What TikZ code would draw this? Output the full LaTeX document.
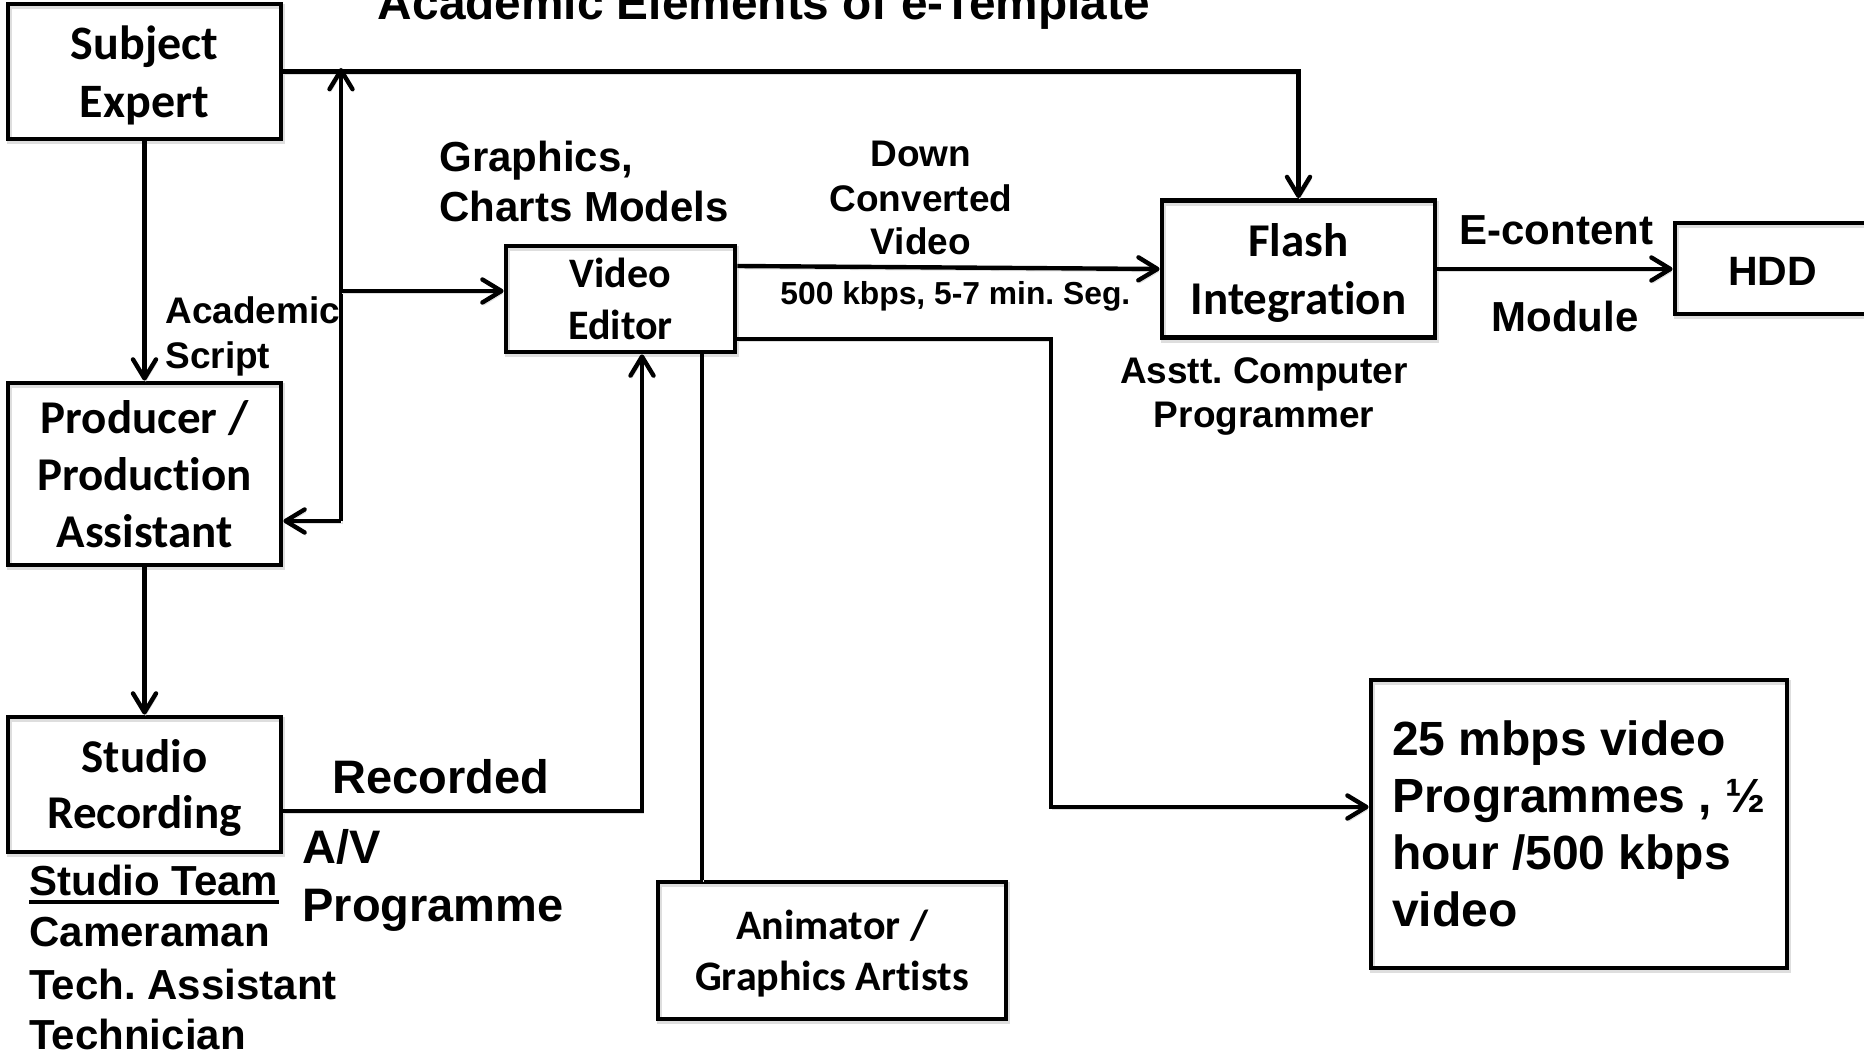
\documentclass[tikz,border=0pt]{standalone}
\usepackage{fontspec}
\setmainfont{Liberation Sans}
\newfontfamily\calibrifont{Carlito}[Ligatures=NoCommon]
\usetikzlibrary{arrows.meta}
\frenchspacing
\begin{document}
\begin{tikzpicture}[x=0.5pt,y=-0.5pt,
  shade/.style={preaction={draw=black!13, transform canvas={shift={(0.6pt,-1.4pt)}}}},
  box/.style={draw, shade, line width=2.4pt, inner sep=0pt, align=center,
    font=\calibrifont\bfseries\fontsize{23.5}{28.5}\selectfont},
  link/.style={shade, line width=2.2pt},
  arr/.style={link, -{Straight Barb[length=9.5pt,width=11.5pt,round]}},
  lbl/.style={inner sep=0pt, font=\bfseries\fontsize{21}{25}\selectfont},
  small/.style={lbl, font=\bfseries\fontsize{18.5}{22}\selectfont},
  big/.style={lbl, font=\bfseries\fontsize{23.5}{28}\selectfont}]
\useasboundingbox (0,0) rectangle (1864,1059);

% title
\node[lbl, anchor=base, font=\bfseries\fontsize{23.9}{28}\selectfont] (title) at (764,20) {Academic Elements of e-Template};

% boxes
\node[box, minimum width=136.5pt, minimum height=67.5pt,
  font=\calibrifont\bfseries\fontsize{24}{29}\selectfont] (se) at (144.5,71.5) {Subject\\\smash{Expert}};
\node[box, minimum width=136.5pt, minimum height=91pt] (pr) at (144.5,474) {Producer /\\Production\\Assistant};
\node[box, minimum width=136.5pt, minimum height=67.5pt,
  font=\calibrifont\bfseries\fontsize{23.5}{28}\selectfont] (st) at (144.5,784.5) {Studio\\\smash{Recording}};
\node[box, minimum width=114.5pt, minimum height=53pt,
  font=\calibrifont\bfseries\fontsize{21}{26}\selectfont] (ve) at (620.5,299) {Video\\Editor};
\node[box, minimum width=136.5pt, minimum height=68.5pt,
  font=\calibrifont\bfseries\fontsize{23.5}{29}\selectfont] (fl) at (1298.5,269) {Flash\\\smash{Integration}};
\node[box, minimum width=97.5pt, minimum height=45.5pt,
  font=\bfseries\fontsize{20.5}{24}\selectfont, text height=17.3pt, text depth=0pt] (hdd) at (1772.5,268.5) {HDD};
\node[box, minimum width=174pt, minimum height=68.5pt,
  font=\calibrifont\bfseries\fontsize{21}{25.5}\selectfont] (an) at (832,950.5) {Animator /\\\smash{Graphics Artists}};
\node[box, minimum width=208pt, minimum height=144pt, align=left,
  font=\bfseries\fontsize{24}{28.5}\selectfont] (mb) at (1579,824) {25 mbps video\\Programmes , ½\\hour /500 kbps\\video};

% routing points
\coordinate (j1) at (341,521);
\coordinate (j2) at (341,291);
\coordinate (jt) at (341,68);
\coordinate (c1) at (642,811);
\coordinate (c2) at (702,0);
\coordinate (c3) at (0,266);
\coordinate (c4) at (1051,339);
\coordinate (c5) at (1051,807);

% connectors
\draw[arr] (se.south) -- (pr.north);
\draw[arr] (se.east) -- (se.east -| fl.north) -- (fl.north);
\draw[arr] (j1) -- (jt);
\draw[arr] (j1) -- (j1 -| pr.east);
\draw[arr] (j2) -- (j2 -| ve.west);
\draw[arr] (pr.south) -- (st.north);
\draw[arr] (c1 -| st.east) -- (c1) -- (c1 |- ve.south);
\draw[link] (c2 |- ve.south) -- (c2 |- an.north);
\draw[arr] (ve.east |- c3) -- (fl.west);
\draw[arr] (ve.east |- c4) -- (c4) -- (c5) -- (c5 -| mb.west);
\draw[arr] (fl.east) -- (fl.east -| hdd.west);

% labels
\node[small, anchor=base west] (acad1) at (165,323) {Academic};
\node[small, anchor=base west] (acad2) at (165,368) {Script};
\node[lbl, anchor=base west] (gr1) at (439,172) {Graphics,};
\node[lbl, anchor=base west] (gr2) at (439,222) {Charts Models};
\node[small, anchor=base] (dc1) at (921,167) {Down};
\node[small, anchor=base] (dc2) at (921,212) {Converted};
\node[small, anchor=base] (dc3) at (921,255) {Video};
\node[lbl, anchor=base west, font=\bfseries\fontsize{15.9}{19}\selectfont] (rate) at (780,305) {500 kbps, 5-7 min. Seg.};
\node[lbl, anchor=base west] (ec) at (1459,245) {E-content};
\node[lbl, anchor=base west] (mod) at (1491,332) {Module};
\node[small, anchor=base] (acp1) at (1264,383) {Asstt. Computer};
\node[small, anchor=base] (acp2) at (1264,427) {Programmer};
\node[big, anchor=base west] (rec1) at (332,793) {Recorded};
\node[big, anchor=base west] (rec2) at (302,863) {A/V};
\node[big, anchor=base west] (rec3) at (302,921) {Programme};
\node[lbl, anchor=base west] (tm1) at (29,895) {Studio Team};
\draw[line width=2pt] ([yshift=-3.5pt]tm1.base west) -- ([yshift=-3.5pt]tm1.base east);
\node[lbl, anchor=base west] (tm2) at (29,946) {Cameraman};
\node[lbl, anchor=base west] (tm3) at (29,999) {Tech. Assistant};
\node[lbl, anchor=base west] (tm4) at (29,1049) {Technician};
\end{tikzpicture}
\end{document}
